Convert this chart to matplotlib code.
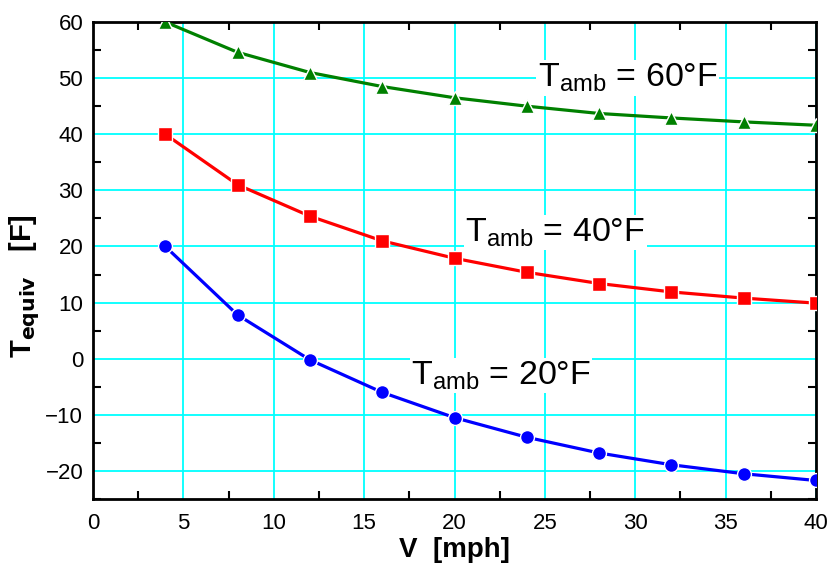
import matplotlib.pyplot as plt
from matplotlib.ticker import MultipleLocator

plt.rcParams['font.family'] = ['Liberation Sans', 'DejaVu Sans']

# wind speed [mph]
v = [4, 8, 12, 16, 20, 24, 28, 32, 36, 40]

# equivalent temperature [F] for each ambient temperature
t60 = [60, 54.6, 51, 48.5, 46.5, 45, 43.7, 42.9, 42.2, 41.6]
t40 = [40, 31, 25.4, 21, 17.9, 15.4, 13.4, 11.9, 10.8, 9.9]
t20 = [20, 7.8, -0.2, -6, -10.5, -14, -16.8, -18.9, -20.5, -21.7]

labels = ['T$_{\\mathregular{amb}}$ = 60\u00b0F',
          'T$_{\\mathregular{amb}}$ = 40\u00b0F',
          'T$_{\\mathregular{amb}}$ = 20\u00b0F']

fig = plt.figure(figsize=(8.33, 5.7), dpi=100)
ax = fig.add_axes([93 / 833, 71 / 570, 723 / 833, 477 / 570])

ax.grid(True, color='#00ffff', linewidth=1.3, zorder=0)
ax.set_axisbelow(True)

kw = dict(linewidth=2.3, markersize=10, markeredgecolor='white', markeredgewidth=1.0, zorder=3)
ax.plot(v, t60, color='#008000', marker='^', **kw)
ax.plot(v, t40, color='#ff0000', marker='s', **kw)
ax.plot(v, t20, color='#0000ff', marker='o', **kw)

box = dict(facecolor='white', edgecolor='none', pad=1)
ax.text(24.6, 50, labels[0], fontsize=24.5, va='center', bbox=box, zorder=4)
ax.text(20.6, 22.5, labels[1], fontsize=24.5, va='center', bbox=box, zorder=4)
ax.text(17.6, -3, labels[2], fontsize=24.5, va='center', bbox=box, zorder=4)

ax.set_xlim(0, 40)
ax.set_ylim(-25, 60)
ax.xaxis.set_major_locator(MultipleLocator(5))
ax.xaxis.set_minor_locator(MultipleLocator(2.5))
ax.yaxis.set_major_locator(MultipleLocator(10))
ax.yaxis.set_minor_locator(MultipleLocator(5))
ax.tick_params(which='both', direction='in', top=True, right=True, labelsize=16)
ax.tick_params(which='major', length=0)
ax.tick_params(axis='x', which='major', pad=10)
ax.tick_params(axis='y', which='major', pad=7)
ax.tick_params(which='minor', length=6, width=1.5)
for s in ax.spines.values():
    s.set_linewidth(2)

ax.set_xlabel('V  [mph]', fontsize=20, fontweight='bold', labelpad=2)
ax.set_ylabel('T$_{\\mathbf{equiv}}$   [F]', fontsize=21, fontweight='bold')
ax.yaxis.set_label_coords(-0.07, 0.447)

fig.savefig('out.png', dpi=100)
